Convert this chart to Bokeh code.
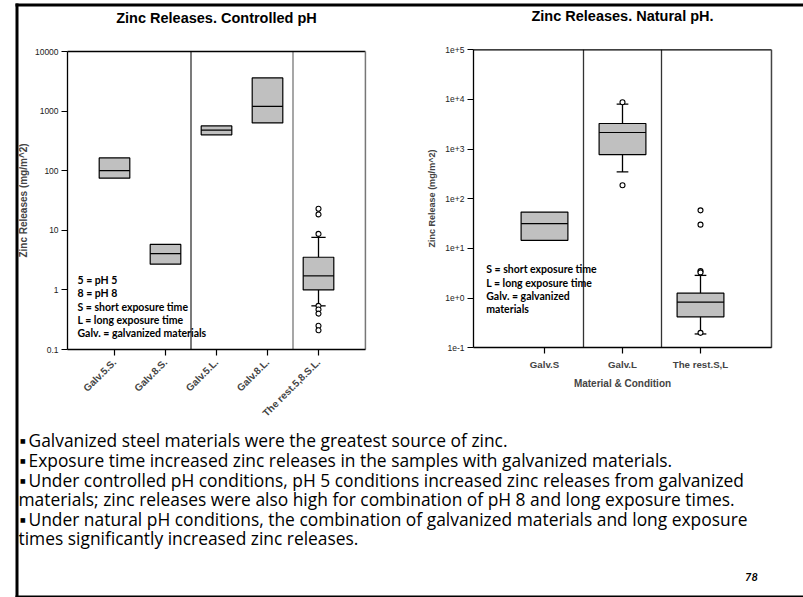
import math
from bokeh.plotting import figure
from bokeh.models import Range1d, LogScale, LogAxis, LinearAxis, FixedTicker
from bokeh.core.properties import value
from bokeh.embed import file_html
from bokeh.resources import INLINE

# ---------------- data: controlled pH ----------------
ctrl_cats = ["Galv.5.S.", "Galv.8.S.", "Galv.5.L.", "Galv.8.L.", "The rest.5,8.S.L."]
ctrl_q1 = [75, 2.7, 400, 634, 1.0]
ctrl_med = [100, 4.05, 480, 1200, 1.72]
ctrl_q3 = [164, 5.8, 565, 3600, 3.53]
ctrl_whisker_lo = [None, None, None, None, 0.54]
ctrl_whisker_hi = [None, None, None, None, 7.6]
ctrl_out_cat = [5, 5, 5, 5, 5, 5, 5, 5]
ctrl_out_val = [23, 18.5, 8.7, 0.54, 0.47, 0.40, 0.25, 0.21]
ctrl_ticks = [0.1, 1, 10, 100, 1000, 10000]
ctrl_tick_labels = ["0.1", "1", "10", "100", "1000", "10000"]
ctrl_group_breaks = [2, 4]          # separator drawn after these categories
ctrl_notes = ["5 = pH 5", "8 = pH 8", "S = short exposure time",
              "L = long exposure time", "Galv. = galvanized materials"]

# ---------------- data: natural pH ----------------
nat_cats = ["Galv.S", "Galv.L", "The rest.S,L"]
nat_q1 = [14.6, 778, 0.42]
nat_med = [31.6, 2160, 0.83]
nat_q3 = [54, 3280, 1.26]
nat_whisker_lo = [None, 347, 0.19]
nat_whisker_hi = [None, 8040, 2.87]
nat_out_cat = [2, 2, 3, 3, 3, 3, 3]
nat_out_val = [8800, 187, 58.6, 30.2, 3.5, 3.3, 0.2]
nat_ticks = [0.1, 1, 10, 100, 1000, 10000, 100000]
nat_tick_labels = ["1e-1", "1e+0", "1e+1", "1e+2", "1e+3", "1e+4", "1e+5"]
nat_group_breaks = [1, 2]
nat_notes = ["S = short exposure time", "L = long exposure time",
             "Galv. = galvanized", "materials"]

body_lines = [
    "Galvanized steel materials were the greatest source of zinc.",
    "Exposure time increased zinc releases in the samples with galvanized materials.",
    "Under controlled pH conditions, pH 5 conditions increased zinc releases from galvanized",
    "materials; zinc releases were also high for combination of pH 8 and long exposure times.",
    "Under natural pH conditions, the combination of galvanized materials and long exposure",
    "times significantly increased zinc releases.",
]
body_is_bullet = [True, True, True, False, True, False]

# ---------------- page geometry (pixels from top-left) ----------------
W, H = 803, 597
ARIAL_NAME = "Liberation Sans"
ARIAL = value(ARIAL_NAME)
NOTE_FONT = value("Lato")
BODY_FONT = value("Open Sans")

p = figure(width=W, height=H, x_range=Range1d(0, W), y_range=Range1d(H, 0),
           x_axis_type=None, y_axis_type=None, min_border=0,
           toolbar_location=None, output_backend="svg")
p.outline_line_color = None
p.background_fill_color = "white"
p.border_fill_color = "white"


def linear_range(px, vals):
    k = (vals[1] - vals[0]) / (px[1] - px[0])
    return Range1d(vals[0] - k * px[0], vals[0] + k * (W - px[0]))


def log_range(px, vals):
    l0, l1 = math.log10(vals[0]), math.log10(vals[1])
    k = (l1 - l0) / (px[1] - px[0])
    return Range1d(10 ** (l0 + k * (H - px[0])), 10 ** (l0 - k * px[0]))


panels = {
    "ctrl": dict(cats=ctrl_cats, q1=ctrl_q1, med=ctrl_med, q3=ctrl_q3,
                 wlo=ctrl_whisker_lo, whi=ctrl_whisker_hi,
                 out_cat=ctrl_out_cat, out_val=ctrl_out_val,
                 ticks=ctrl_ticks, tick_labels=ctrl_tick_labels,
                 breaks=ctrl_group_breaks,
                 x_px=(114, 318), y_px=(349, 51), pad=0.92,
                 box_w=0.6, cap_w=0.28, sep_colors=["#333333", "#777777"],
                 right_color="#777777",
                 ylabel="Zinc Releases (mg/m^2)", ylabel_size="10px", ylabel_standoff=3,
                 xlabel="", xlab_size="10px", rotate=math.pi / 4),
    "nat": dict(cats=nat_cats, q1=nat_q1, med=nat_med, q3=nat_q3,
                wlo=nat_whisker_lo, whi=nat_whisker_hi,
                out_cat=nat_out_cat, out_val=nat_out_val,
                ticks=nat_ticks, tick_labels=nat_tick_labels,
                breaks=nat_group_breaks,
                x_px=(544, 700), y_px=(347.3, 49.3), pad=0.91,
                box_w=0.6, cap_w=0.15, sep_colors=["#333333", "#333333"],
                right_color="#444444",
                ylabel="Zinc Release (mg/m^2)", ylabel_size="9px", ylabel_standoff=5,
                xlabel="Material & Condition", xlab_size="9.7px", rotate="horizontal"),
}

xr, yr = {}, {}
for key, d in panels.items():
    n = len(d["cats"])
    xr[key] = linear_range(d["x_px"], (1, n))
    yr[key] = log_range(d["y_px"], (d["ticks"][0], d["ticks"][-1]))
p.extra_x_ranges = {k + "_x": v for k, v in xr.items()}
p.extra_y_ranges = {k + "_y": v for k, v in yr.items()}
p.extra_y_scales = {k + "_y": LogScale() for k in panels}

for key, d in panels.items():
    xn, yn = key + "_x", key + "_y"
    n = len(d["cats"])
    xs = list(range(1, n + 1))
    x_lo, x_hi = 1 - d["pad"], n + d["pad"]
    y_lo, y_hi = d["ticks"][0], d["ticks"][-1]
    bw, cw = d["box_w"], d["cap_w"]
    kw = dict(x_range_name=xn, y_range_name=yn)

    # group separators and the upper/right frame lines
    seps = [b + 0.5 for b in d["breaks"]]
    p.segment(x0=seps, x1=seps, y0=[y_lo] * len(seps), y1=[y_hi] * len(seps),
              line_color=d["sep_colors"], line_width=1.3, **kw)
    p.segment(x0=[x_lo], x1=[x_hi], y0=[y_hi], y1=[y_hi],
              line_color="black", line_width=1.3, **kw)
    p.segment(x0=[x_hi], x1=[x_hi], y0=[y_lo], y1=[y_hi],
              line_color=d["right_color"], line_width=1.5, **kw)

    # whiskers
    wx = [x for x, lo in zip(xs, d["wlo"]) if lo is not None]
    wlo = [lo for lo in d["wlo"] if lo is not None]
    whi = [hi for hi in d["whi"] if hi is not None]
    wq1 = [q for q, lo in zip(d["q1"], d["wlo"]) if lo is not None]
    wq3 = [q for q, hi in zip(d["q3"], d["whi"]) if hi is not None]
    if wx:
        p.segment(x0=wx + wx, x1=wx + wx, y0=wq3 + wq1, y1=whi + wlo,
                  line_color="black", line_width=1.3, **kw)
        p.segment(x0=[x - cw / 2 for x in wx] * 2, x1=[x + cw / 2 for x in wx] * 2,
                  y0=whi + wlo, y1=whi + wlo, line_color="black", line_width=1.3, **kw)

    # boxes and medians
    p.vbar(x=xs, width=bw, bottom=d["q1"], top=d["q3"], fill_color="#c0c0c0",
           line_color="black", line_width=1.2, **kw)
    p.segment(x0=[x - bw / 2 for x in xs], x1=[x + bw / 2 for x in xs],
              y0=d["med"], y1=d["med"], line_color="black", line_width=1.2, **kw)

    # outliers
    p.scatter(x=d["out_cat"], y=d["out_val"], marker="circle", size=5,
              fill_color="white", line_color="black", line_width=1.1, **kw)

    # axes
    frame_left = d["x_px"][0] + (x_lo - 1) * (d["x_px"][1] - d["x_px"][0]) / (n - 1)
    yax = LogAxis(y_range_name=yn, fixed_location=frame_left, bounds=(y_lo, y_hi),
                  ticker=FixedTicker(ticks=d["ticks"], minor_ticks=[]),
                  major_label_overrides=dict(zip(d["ticks"], d["tick_labels"])),
                  axis_label=d["ylabel"])
    yax.axis_label_text_font = ARIAL_NAME
    yax.axis_label_text_font_style = "bold"
    yax.axis_label_text_font_size = d["ylabel_size"]
    yax.axis_label_standoff = d["ylabel_standoff"]
    yax.major_label_text_font = ARIAL_NAME
    yax.major_label_text_font_size = "8.5px"
    yax.major_label_text_color = "#222222"
    yax.major_label_standoff = 3
    yax.major_tick_out = 6
    yax.major_tick_in = 0
    yax.minor_tick_line_color = None
    yax.axis_line_width = 1.3
    yax.major_tick_line_width = 1.2
    p.add_layout(yax, "left")

    xax = LinearAxis(x_range_name=xn, fixed_location=d["y_px"][0], bounds=(x_lo, x_hi),
                     ticker=FixedTicker(ticks=xs, minor_ticks=[]),
                     major_label_overrides=dict(zip(xs, d["cats"])))
    if d["xlabel"]:
        xax.axis_label = d["xlabel"]
        xax.axis_label_text_font = ARIAL_NAME
        xax.axis_label_text_font_style = "bold"
        xax.axis_label_text_font_size = "10px"
        xax.axis_label_standoff = 5
    xax.major_label_orientation = d["rotate"]
    xax.major_label_text_font = ARIAL_NAME
    xax.major_label_text_font_style = "bold"
    xax.major_label_text_font_size = d["xlab_size"]
    xax.major_label_standoff = 5
    xax.major_tick_out = 6
    xax.major_tick_in = 0
    xax.minor_tick_line_color = None
    xax.axis_line_width = 1.3
    xax.major_tick_line_width = 1.2
    p.add_layout(xax, "below")

# chart titles
p.text(x=[216, 622], y=[17.3, 15.7],
       text=["Zinc Releases. Controlled pH", "Zinc Releases. Natural pH."],
       text_font=ARIAL, text_font_style="bold", text_font_size="14.5px",
       text_align="center", text_baseline="alphabetic", text_color="black")

# abbreviation notes inside the charts
p.text(x=[77] * len(ctrl_notes), y=[279.3 + 13.4 * i for i in range(len(ctrl_notes))],
       text=ctrl_notes, text_font=NOTE_FONT, text_font_style="bold", text_font_size="10.5px",
       text_align="left", text_baseline="middle", text_color="black")
p.text(x=[485.7] * len(nat_notes), y=[268.7 + 13.4 * i for i in range(len(nat_notes))],
       text=nat_notes, text_font=NOTE_FONT, text_font_style="bold", text_font_size="10.5px",
       text_align="left", text_baseline="middle", text_color="black")

# slide body text: bullet lines are indented past a small square marker
line_y = [439, 459, 479, 498, 518, 537]
p.text(x=[28 if b else 18 for b in body_is_bullet], y=line_y, text=body_lines,
       text_font=BODY_FONT, text_font_size="17.4px", text_align="left",
       text_baseline="middle", text_color="black")
bullet_y = [y for y, b in zip(line_y, body_is_bullet) if b]
p.text(x=[19.5] * len(bullet_y), y=[y + 0.5 for y in bullet_y], text=["\u25a0"] * len(bullet_y),
       text_font=value("DejaVu Sans"), text_font_size="6px", text_align="left",
       text_baseline="middle", text_color="black")
p.text(x=[751], y=[576], text=["78"], text_font=NOTE_FONT, text_font_style="bold italic",
       text_font_size="11px", text_align="center", text_baseline="middle",
       text_color="black")

# slide frame
p.segment(x0=[15, 16.5, 15], y0=[4.5, 3, 596], x1=[W, 16.5, W], y1=[4.5, H, 596],
          line_color="black", line_width=[3, 3, 2])

open("out.html", "w").write(file_html(p, INLINE))
